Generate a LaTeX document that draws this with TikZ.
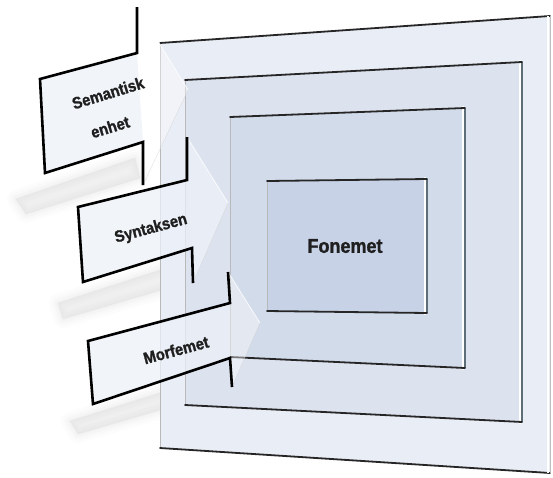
\documentclass[tikz,border=0pt]{standalone}
\usepackage{fontspec}
\setmainfont{Liberation Sans}
\newfontfamily\lblfont{Liberation Sans Bold}[FakeStretch=0.9,FakeBold=1.2]
\definecolor{fA}{HTML}{E9EDF5}
\definecolor{fB}{HTML}{DCE3EF}
\definecolor{fC}{HTML}{D2DBEA}
\definecolor{fD}{HTML}{C7D2E6}
\definecolor{arrowc}{HTML}{EDF1F8}
\definecolor{sidec}{HTML}{5E6E78}
\begin{document}
\begin{tikzpicture}[x=1pt,y=-1pt,
  darkedge/.style={draw=black!85, line width=1.8pt, line cap=round},
  sideedge/.style={draw=sidec, line width=1.6pt},
  sidehi/.style={draw=white, line width=1.2pt},
  ledge/.style={draw=gray!55, line width=0.6pt},
  boxfill/.style={fill=arrowc, fill opacity=0.75},
  headfill/.style={fill=white, fill opacity=0.38},
  arrowline/.style={draw=black, line width=2.6pt, line join=miter},
  headedge/.style={draw=white, line width=0.9pt, opacity=0.75},
  headedgelow/.style={draw=gray!40, line width=0.5pt, opacity=0.5},
  lbl/.style={font=\lblfont\fontsize{16.5}{18}\selectfont, text=black!88, align=center, inner sep=0pt},
  shd/.style={fill=gray!35, draw=gray!35, line join=round}
]
\useasboundingbox[fill=white] (0,0) rectangle (553,477);

% --- shadows ---
\foreach \w/\o in {18/0.05,12/0.06,7/0.08,2/0.1}{
  \filldraw[shd, line width=\w pt, opacity=\o] (16,199) -- (135,158) -- (140,178) -- (26,214) -- cycle;
  \filldraw[shd, line width=\w pt, opacity=\o] (58,303) -- (185,262) -- (189,282) -- (63,319) -- cycle;
  \filldraw[shd, line width=\w pt, opacity=\o] (70,421) -- (185,385) -- (188,402) -- (78,434) -- cycle;
}

% --- frames ---
\coordinate (o1) at (160,43);  \coordinate (o2) at (550,16);
\coordinate (o3) at (550,473); \coordinate (o4) at (160,448);
\coordinate (s1) at (185,80);  \coordinate (s2) at (522,62);
\coordinate (s3) at (522,422); \coordinate (s4) at (185,405);
\coordinate (t1) at (230,117); \coordinate (t2) at (465,108);
\coordinate (t3) at (465,368); \coordinate (t4) at (230,357);
\coordinate (i1) at (267,181); \coordinate (i2) at (427,179);
\coordinate (i3) at (427,313); \coordinate (i4) at (267,311);

\fill[fA] (o1) -- (o2) -- (o3) -- (o4) -- cycle;
\draw[ledge] (o4) -- (o1);
\draw[darkedge] (o1) -- (o2);
\draw[darkedge] (o4) -- (o3);
\draw[draw=gray!50, line width=0.8pt] (o2) -- (o3);
\draw[sidehi] ([xshift=-2]o2) -- ([xshift=-2]o3);

\fill[fB] (s1) -- (s2) -- (s3) -- (s4) -- cycle;
\draw[ledge] (s4) -- (s1);
\draw[sideedge] (s2) -- (s3);
\draw[sidehi] ([xshift=-2,yshift=2]s2) -- ([xshift=-2,yshift=-2]s3);
\draw[darkedge] (s1) -- (s2);
\draw[darkedge] (s4) -- (s3);

\fill[fC] (t1) -- (t2) -- (t3) -- (t4) -- cycle;
\draw[ledge] (t4) -- (t1);
\draw[sideedge] (t2) -- (t3);
\draw[sidehi] ([xshift=-2,yshift=2]t2) -- ([xshift=-2,yshift=-2]t3);
\draw[darkedge] (t1) -- (t2);
\draw[darkedge] (t4) -- (t3);

\fill[fD] (i1) -- (i2) -- (i3) -- (i4) -- cycle;
\draw[ledge] (i4) -- (i1);
\draw[sideedge] (i2) -- (i3);
\draw[sidehi] ([xshift=-2,yshift=2]i2) -- ([xshift=-2,yshift=-2]i3);
\draw[darkedge] (i1) -- (i2);
\draw[darkedge] (i4) -- (i3);

\node[lbl, font=\lblfont\fontsize{20}{22}\selectfont] (fon) at (345,246) {Fonemet};

% --- arrow 1: Semantisk enhet ---
\coordinate (a1TL) at (40,79);  \coordinate (a1TR) at (137,53);
\coordinate (a1BT) at (137,7);  \coordinate (a1tip) at (188,90);
\coordinate (a1BB) at (143,185); \coordinate (a1BR) at (143,142);
\coordinate (a1BL) at (45,173);
\fill[boxfill] (a1TL) -- (a1TR) -- (a1BR) -- (a1BL) -- cycle;
\fill[headfill] (a1TR) -- (a1BT) -- (a1tip) -- (a1BB) -- (a1BR) -- cycle;
\draw[headedge] (a1BT) -- (a1tip);
\draw[headedgelow] (a1tip) -- (a1BB);
\draw[arrowline] (a1BT) -- (a1TR) -- (a1TL) -- (a1BL) -- (a1BR) -- (a1BB);
\node[lbl, rotate=17] (sem) at (108,93) {Semantisk};
\node[lbl, rotate=17] (enh) at (110,127) {enhet};

% --- arrow 2: Syntaksen ---
\coordinate (a2TL) at (78,207);  \coordinate (a2TR) at (187,180);
\coordinate (a2BT) at (187,137); \coordinate (a2tip) at (228,203);
\coordinate (a2BB) at (193,283); \coordinate (a2BR) at (192,248);
\coordinate (a2BL) at (83,282);
\fill[boxfill] (a2TL) -- (a2TR) -- (a2BR) -- (a2BL) -- cycle;
\fill[headfill] (a2TR) -- (a2BT) -- (a2tip) -- (a2BB) -- (a2BR) -- cycle;
\draw[headedge] (a2BT) -- (a2tip);
\draw[headedgelow] (a2tip) -- (a2BB);
\draw[arrowline] (a2BT) -- (a2TR) -- (a2TL) -- (a2BL) -- (a2BR) -- (a2BB);
\node[lbl, rotate=15] (syn) at (151,229) {Syntaksen};

% --- arrow 3: Morfemet ---
\coordinate (a3TL) at (88,341);  \coordinate (a3TR) at (230,303);
\coordinate (a3BT) at (228,272); \coordinate (a3tip) at (260,323);
\coordinate (a3BB) at (232,387); \coordinate (a3BR) at (230,358);
\coordinate (a3BL) at (93,404);
\fill[boxfill] (a3TL) -- (a3TR) -- (a3BR) -- (a3BL) -- cycle;
\fill[headfill] (a3TR) -- (a3BT) -- (a3tip) -- (a3BB) -- (a3BR) -- cycle;
\draw[headedge] (a3BT) -- (a3tip);
\draw[headedgelow] (a3tip) -- (a3BB);
\draw[arrowline] (a3BT) -- (a3TR) -- (a3TL) -- (a3BL) -- (a3BR) -- (a3BB);
\node[lbl, rotate=15] (mor) at (176,350) {Morfemet};
\end{tikzpicture}
\end{document}
